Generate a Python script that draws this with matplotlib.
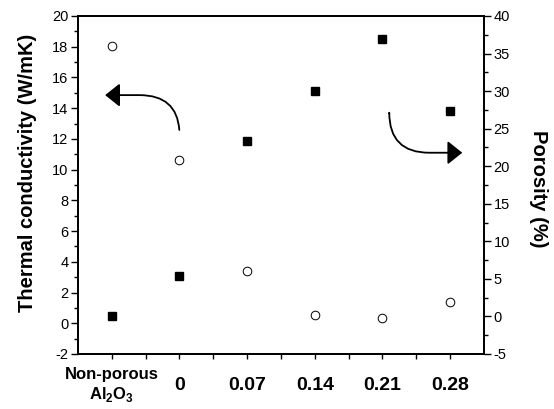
import matplotlib
matplotlib.use('Agg')
import matplotlib.pyplot as plt

plt.rcParams['font.family'] = ['Liberation Sans', 'DejaVu Sans']
plt.rcParams['mathtext.fontset'] = 'custom'
plt.rcParams['mathtext.rm'] = 'Liberation Sans'
plt.rcParams['mathtext.bf'] = 'Liberation Sans:bold'
plt.rcParams['axes.unicode_minus'] = False

# samples along the x axis
samples = ['Non-porous\nAl$_\\mathbf{2}$O$_\\mathbf{3}$', '0', '0.07', '0.14', '0.21', '0.28']
positions = list(range(len(samples)))

# thermal conductivity (W/mK), left axis, open circles
conductivity = [18.05, 10.65, 3.42, 0.54, 0.36, 1.39]
# porosity (%), right axis, filled squares
porosity = [0.0, 5.4, 23.4, 30.0, 37.0, 27.3]

fig = plt.figure(figsize=(5.54, 4.09), dpi=100)
ax = fig.add_axes([0.1408, 0.1345, 0.7328, 0.8264])
ax2 = ax.twinx()

ax.plot(positions, conductivity, 'o', ms=6.2, mfc='white', mec='black', mew=0.7, zorder=3)
ax2.plot(positions, porosity, 's', ms=6.3, color='black', zorder=3)

ax.set_xlim(-0.5, 5.5)
ax.set_ylim(-2, 20)
ax2.set_ylim(-5, 40)

ax.set_yticks(range(-2, 21, 2))
ax.set_yticks(range(-2, 21, 1), minor=True)
ax2.set_yticks(range(-5, 41, 5))
ax2.set_yticks([v + 2.5 for v in range(-5, 40, 5)], minor=True)
ax.set_xticks(positions)
ax.set_xticks([p + 0.5 for p in positions[:-1]], minor=True)
ax.set_xticklabels(samples, fontsize=14, fontweight='bold', va='center', ha='center')
ax.get_xticklabels()[0].set_fontsize(12)

for a in (ax, ax2):
    for s in a.spines.values():
        s.set_linewidth(1.3)
ax.tick_params(axis='y', which='major', direction='out', length=5, width=1.0, labelsize=10.5, pad=2)
ax.tick_params(axis='y', which='minor', direction='out', length=3, width=1.0)
ax.tick_params(axis='x', which='both', direction='out', length=3.5, width=1.0, pad=19)
ax2.tick_params(axis='y', which='major', direction='out', length=5, width=1.0, labelsize=10.5, pad=2)
ax2.tick_params(axis='y', which='minor', direction='out', length=3, width=1.0)

ax.set_ylabel('Thermal conductivity (W/mK)', fontsize=14.5, fontweight='bold')
ax2.set_ylabel('Porosity (%)', fontsize=14.5, fontweight='bold', rotation=-90, va='bottom')
ax.yaxis.set_label_coords(-0.1, 0.535)
ax2.yaxis.set_label_coords(1.112, 0.49)

# curved arrows pointing to the axis each series belongs to
arrow_props = dict(arrowstyle='-|>,head_length=0.45,head_width=0.36', mutation_scale=20,
                   color='black', lw=1.3,
                   connectionstyle='angle,angleA=90,angleB=0,rad=40')
ax.annotate('', xy=(-0.14, 14.85), xytext=(1.0, 12.4), arrowprops=arrow_props)
ax.annotate('', xy=(5.22, 11.1), xytext=(4.1, 13.5), arrowprops=arrow_props)

fig.savefig('out.png', dpi=100)
